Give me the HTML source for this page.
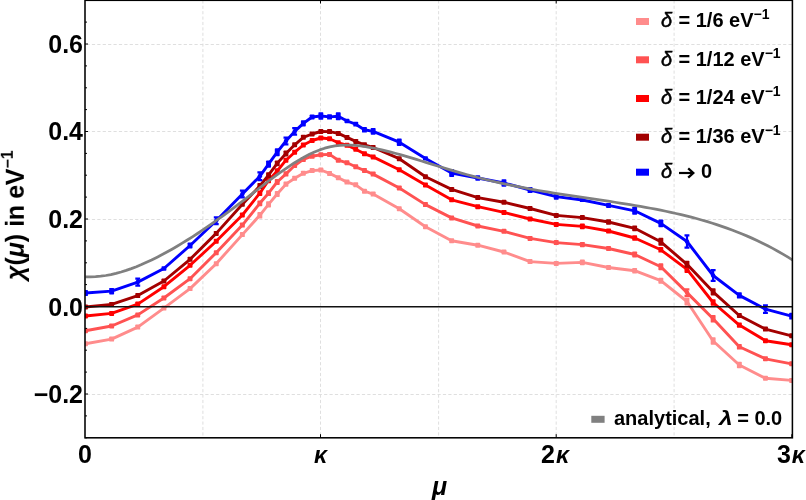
<!DOCTYPE html><html><head><meta charset="utf-8"><title>chart</title><style>
html,body{margin:0;padding:0;background:#fff}
body{width:806px;height:500px;position:relative;overflow:hidden;font-family:"Liberation Sans",sans-serif;font-weight:bold;color:#000}
.t{position:absolute;white-space:nowrap;line-height:1;will-change:transform}
.yl{font-size:25px;text-align:right;width:60px;left:23.1px}
.xl{font-size:25px}
.lg{font-size:20px;left:661.3px}
i{font-style:italic}
.dl{font-weight:normal;-webkit-text-stroke:0.5px #000;margin-right:0.8px}
sup{font-size:70%;vertical-align:baseline;position:relative;top:-0.56em;line-height:0}
.lam{display:inline-block;transform:scaleX(1.22);transform-origin:0 50%;margin-left:2.4px;margin-right:1.8px}
</style></head><body>
<svg width="806" height="500" viewBox="0 0 806 500" style="position:absolute;left:0;top:0"><rect width="806" height="500" fill="#fff"/><g stroke="#dfdfdf" stroke-width="1" stroke-dasharray="3.2 2.2"><line x1="86.5" x2="792.4" y1="44.5" y2="44.5"/><line x1="86.5" x2="792.4" y1="131.5" y2="131.5"/><line x1="86.5" x2="792.4" y1="219.5" y2="219.5"/><line x1="86.5" x2="792.4" y1="394.5" y2="394.5"/><line x1="202.9" x2="202.9" y1="0.3" y2="437.8"/><line x1="320.5" x2="320.5" y1="0.3" y2="437.8"/><line x1="438.6" x2="438.6" y1="0.3" y2="437.8"/><line x1="556.2" x2="556.2" y1="0.3" y2="437.8"/><line x1="674.1" x2="674.1" y1="0.3" y2="437.8"/></g><clipPath id="c"><rect x="85.0" y="0.3" width="707.4" height="437.5"/></clipPath><g clip-path="url(#c)"><polyline points="85.5,343.8 111.6,339.1 137.8,327.1 163.9,308.1 190.1,288.6 216.2,263.7 242.4,234.6 259.8,215.3 268.5,204.4 277.2,194.0 286.0,184.1 294.7,178.2 303.4,173.3 312.1,170.6 320.8,170.0 329.6,173.4 338.3,177.8 347.0,182.1 355.7,184.8 364.4,191.2 373.1,194.1 399.3,208.8 425.5,226.7 451.6,240.7 477.8,245.2 503.9,252.0 530.1,261.6 556.2,263.4 582.4,262.4 608.5,267.5 634.7,270.7 660.8,280.7 687.0,301.5 713.1,341.0 739.3,365.0 765.5,378.3 791.6,380.4" fill="none" stroke="#FF8C8C" stroke-width="2.9" stroke-linejoin="round"/><rect x="83.0" y="341.3" width="4.9" height="5.0" rx="0.7" fill="#FF8C8C"/><rect x="109.2" y="336.6" width="4.9" height="5.0" rx="0.7" fill="#FF8C8C"/><rect x="135.3" y="324.6" width="4.9" height="5.0" rx="0.7" fill="#FF8C8C"/><rect x="161.5" y="305.6" width="4.9" height="5.0" rx="0.7" fill="#FF8C8C"/><rect x="187.6" y="286.1" width="4.9" height="5.0" rx="0.7" fill="#FF8C8C"/><rect x="213.8" y="261.2" width="4.9" height="5.0" rx="0.7" fill="#FF8C8C"/><rect x="239.9" y="232.1" width="4.9" height="5.0" rx="0.7" fill="#FF8C8C"/><rect x="257.4" y="212.0" width="4.9" height="6.6" rx="0.7" fill="#FF8C8C"/><rect x="266.1" y="201.3" width="4.9" height="6.2" rx="0.7" fill="#FF8C8C"/><rect x="274.8" y="191.1" width="4.9" height="5.8" rx="0.7" fill="#FF8C8C"/><rect x="283.5" y="181.4" width="4.9" height="5.4" rx="0.7" fill="#FF8C8C"/><rect x="292.2" y="175.7" width="4.9" height="5.0" rx="0.7" fill="#FF8C8C"/><rect x="300.9" y="170.8" width="4.9" height="5.0" rx="0.7" fill="#FF8C8C"/><rect x="309.7" y="168.1" width="4.9" height="5.0" rx="0.7" fill="#FF8C8C"/><rect x="318.4" y="167.5" width="4.9" height="5.0" rx="0.7" fill="#FF8C8C"/><rect x="327.1" y="170.9" width="4.9" height="5.0" rx="0.7" fill="#FF8C8C"/><rect x="335.8" y="175.3" width="4.9" height="5.0" rx="0.7" fill="#FF8C8C"/><rect x="344.5" y="179.6" width="4.9" height="5.0" rx="0.7" fill="#FF8C8C"/><rect x="353.3" y="182.3" width="4.9" height="5.0" rx="0.7" fill="#FF8C8C"/><rect x="362.0" y="188.7" width="4.9" height="5.0" rx="0.7" fill="#FF8C8C"/><rect x="370.7" y="191.6" width="4.9" height="5.0" rx="0.7" fill="#FF8C8C"/><rect x="396.8" y="206.3" width="4.9" height="5.0" rx="0.7" fill="#FF8C8C"/><rect x="423.0" y="224.2" width="4.9" height="5.0" rx="0.7" fill="#FF8C8C"/><rect x="449.2" y="238.2" width="4.9" height="5.0" rx="0.7" fill="#FF8C8C"/><rect x="475.3" y="242.7" width="4.9" height="5.0" rx="0.7" fill="#FF8C8C"/><rect x="501.5" y="249.5" width="4.9" height="5.0" rx="0.7" fill="#FF8C8C"/><rect x="527.6" y="259.1" width="4.9" height="5.0" rx="0.7" fill="#FF8C8C"/><rect x="553.8" y="260.9" width="4.9" height="5.0" rx="0.7" fill="#FF8C8C"/><rect x="579.9" y="259.6" width="4.9" height="5.6" rx="0.7" fill="#FF8C8C"/><rect x="606.1" y="265.0" width="4.9" height="5.0" rx="0.7" fill="#FF8C8C"/><rect x="632.2" y="268.0" width="4.9" height="5.4" rx="0.7" fill="#FF8C8C"/><rect x="658.4" y="277.7" width="4.9" height="6.0" rx="0.7" fill="#FF8C8C"/><rect x="684.5" y="297.5" width="4.9" height="8.0" rx="0.7" fill="#FF8C8C"/><rect x="710.7" y="337.3" width="4.9" height="7.4" rx="0.7" fill="#FF8C8C"/><rect x="736.9" y="361.8" width="4.9" height="6.4" rx="0.7" fill="#FF8C8C"/><rect x="763.0" y="375.8" width="4.9" height="5.0" rx="0.7" fill="#FF8C8C"/><rect x="789.2" y="377.9" width="4.9" height="5.0" rx="0.7" fill="#FF8C8C"/><polyline points="85.5,330.7 111.6,326.0 137.8,314.9 163.9,298.0 190.1,278.7 216.2,252.7 242.4,225.1 259.8,203.3 268.5,193.2 277.2,182.0 286.0,173.9 294.7,165.5 303.4,159.4 312.1,156.2 320.8,154.8 329.6,154.4 338.3,160.2 347.0,162.8 355.7,166.8 364.4,170.5 373.1,174.1 399.3,188.0 425.5,204.6 451.6,217.9 477.8,226.0 503.9,231.3 530.1,238.4 556.2,242.6 582.4,244.6 608.5,248.5 634.7,254.5 660.8,266.7 687.0,292.6 713.1,318.8 739.3,346.8 765.5,358.8 791.6,363.8" fill="none" stroke="#FF5252" stroke-width="2.9" stroke-linejoin="round"/><rect x="83.0" y="328.2" width="4.9" height="5.0" rx="0.7" fill="#FF5252"/><rect x="109.2" y="323.5" width="4.9" height="5.0" rx="0.7" fill="#FF5252"/><rect x="135.3" y="312.4" width="4.9" height="5.0" rx="0.7" fill="#FF5252"/><rect x="161.5" y="295.5" width="4.9" height="5.0" rx="0.7" fill="#FF5252"/><rect x="187.6" y="276.2" width="4.9" height="5.0" rx="0.7" fill="#FF5252"/><rect x="213.8" y="250.2" width="4.9" height="5.0" rx="0.7" fill="#FF5252"/><rect x="239.9" y="222.6" width="4.9" height="5.0" rx="0.7" fill="#FF5252"/><rect x="257.4" y="200.4" width="4.9" height="5.8" rx="0.7" fill="#FF5252"/><rect x="266.1" y="190.3" width="4.9" height="5.8" rx="0.7" fill="#FF5252"/><rect x="274.8" y="179.1" width="4.9" height="5.8" rx="0.7" fill="#FF5252"/><rect x="283.5" y="171.2" width="4.9" height="5.4" rx="0.7" fill="#FF5252"/><rect x="292.2" y="163.0" width="4.9" height="5.0" rx="0.7" fill="#FF5252"/><rect x="300.9" y="156.9" width="4.9" height="5.0" rx="0.7" fill="#FF5252"/><rect x="309.7" y="153.7" width="4.9" height="5.0" rx="0.7" fill="#FF5252"/><rect x="318.4" y="152.3" width="4.9" height="5.0" rx="0.7" fill="#FF5252"/><rect x="327.1" y="151.9" width="4.9" height="5.0" rx="0.7" fill="#FF5252"/><rect x="335.8" y="157.7" width="4.9" height="5.0" rx="0.7" fill="#FF5252"/><rect x="344.5" y="160.3" width="4.9" height="5.0" rx="0.7" fill="#FF5252"/><rect x="353.3" y="164.3" width="4.9" height="5.0" rx="0.7" fill="#FF5252"/><rect x="362.0" y="168.0" width="4.9" height="5.0" rx="0.7" fill="#FF5252"/><rect x="370.7" y="171.6" width="4.9" height="5.0" rx="0.7" fill="#FF5252"/><rect x="396.8" y="185.5" width="4.9" height="5.0" rx="0.7" fill="#FF5252"/><rect x="423.0" y="202.1" width="4.9" height="5.0" rx="0.7" fill="#FF5252"/><rect x="449.2" y="215.4" width="4.9" height="5.0" rx="0.7" fill="#FF5252"/><rect x="475.3" y="223.5" width="4.9" height="5.0" rx="0.7" fill="#FF5252"/><rect x="501.5" y="228.8" width="4.9" height="5.0" rx="0.7" fill="#FF5252"/><rect x="527.6" y="235.9" width="4.9" height="5.0" rx="0.7" fill="#FF5252"/><rect x="553.8" y="240.1" width="4.9" height="5.0" rx="0.7" fill="#FF5252"/><rect x="579.9" y="241.9" width="4.9" height="5.4" rx="0.7" fill="#FF5252"/><rect x="606.1" y="246.0" width="4.9" height="5.0" rx="0.7" fill="#FF5252"/><rect x="632.2" y="251.6" width="4.9" height="5.8" rx="0.7" fill="#FF5252"/><rect x="658.4" y="263.2" width="4.9" height="7.0" rx="0.7" fill="#FF5252"/><path d="M687.0,289.3V295.9M684.5,289.3H689.4M684.5,295.9H689.4" stroke="#FF5252" stroke-width="2.2" fill="none"/><circle cx="687.0" cy="292.6" r="2.25" fill="#FF5252"/><rect x="710.7" y="315.0" width="4.9" height="7.6" rx="0.7" fill="#FF5252"/><rect x="736.9" y="344.0" width="4.9" height="5.6" rx="0.7" fill="#FF5252"/><rect x="763.0" y="356.3" width="4.9" height="5.0" rx="0.7" fill="#FF5252"/><rect x="789.2" y="361.3" width="4.9" height="5.0" rx="0.7" fill="#FF5252"/><polyline points="85.5,316.0 111.6,313.4 137.8,304.1 163.9,286.7 190.1,265.3 216.2,241.3 242.4,215.0 259.8,193.2 268.5,180.4 277.2,171.0 286.0,160.2 294.7,152.2 303.4,145.0 312.1,140.5 320.8,138.0 329.6,138.8 338.3,142.8 347.0,145.2 355.7,149.2 364.4,153.8 373.1,156.9 399.3,169.8 425.5,184.9 451.6,199.8 477.8,206.7 503.9,212.4 530.1,219.0 556.2,224.4 582.4,226.4 608.5,231.0 634.7,238.0 660.8,249.8 687.0,269.3 713.1,302.5 739.3,325.1 765.5,340.7 791.6,344.7" fill="none" stroke="#FF0000" stroke-width="2.9" stroke-linejoin="round"/><rect x="83.0" y="313.5" width="4.9" height="5.0" rx="0.7" fill="#FF0000"/><rect x="109.2" y="310.9" width="4.9" height="5.0" rx="0.7" fill="#FF0000"/><rect x="135.3" y="301.6" width="4.9" height="5.0" rx="0.7" fill="#FF0000"/><rect x="161.5" y="284.2" width="4.9" height="5.0" rx="0.7" fill="#FF0000"/><rect x="187.6" y="262.8" width="4.9" height="5.0" rx="0.7" fill="#FF0000"/><rect x="213.8" y="238.8" width="4.9" height="5.0" rx="0.7" fill="#FF0000"/><rect x="239.9" y="212.5" width="4.9" height="5.0" rx="0.7" fill="#FF0000"/><rect x="257.4" y="190.4" width="4.9" height="5.6" rx="0.7" fill="#FF0000"/><rect x="266.1" y="177.6" width="4.9" height="5.6" rx="0.7" fill="#FF0000"/><rect x="274.8" y="168.2" width="4.9" height="5.6" rx="0.7" fill="#FF0000"/><rect x="283.5" y="157.7" width="4.9" height="5.0" rx="0.7" fill="#FF0000"/><rect x="292.2" y="149.7" width="4.9" height="5.0" rx="0.7" fill="#FF0000"/><rect x="300.9" y="142.5" width="4.9" height="5.0" rx="0.7" fill="#FF0000"/><rect x="309.7" y="138.0" width="4.9" height="5.0" rx="0.7" fill="#FF0000"/><rect x="318.4" y="135.5" width="4.9" height="5.0" rx="0.7" fill="#FF0000"/><rect x="327.1" y="136.3" width="4.9" height="5.0" rx="0.7" fill="#FF0000"/><rect x="335.8" y="140.3" width="4.9" height="5.0" rx="0.7" fill="#FF0000"/><rect x="344.5" y="142.7" width="4.9" height="5.0" rx="0.7" fill="#FF0000"/><rect x="353.3" y="146.7" width="4.9" height="5.0" rx="0.7" fill="#FF0000"/><rect x="362.0" y="151.3" width="4.9" height="5.0" rx="0.7" fill="#FF0000"/><rect x="370.7" y="154.4" width="4.9" height="5.0" rx="0.7" fill="#FF0000"/><rect x="396.8" y="167.3" width="4.9" height="5.0" rx="0.7" fill="#FF0000"/><rect x="423.0" y="182.4" width="4.9" height="5.0" rx="0.7" fill="#FF0000"/><rect x="449.2" y="197.3" width="4.9" height="5.0" rx="0.7" fill="#FF0000"/><rect x="475.3" y="204.2" width="4.9" height="5.0" rx="0.7" fill="#FF0000"/><rect x="501.5" y="209.9" width="4.9" height="5.0" rx="0.7" fill="#FF0000"/><rect x="527.6" y="216.5" width="4.9" height="5.0" rx="0.7" fill="#FF0000"/><rect x="553.8" y="221.9" width="4.9" height="5.0" rx="0.7" fill="#FF0000"/><rect x="579.9" y="223.6" width="4.9" height="5.6" rx="0.7" fill="#FF0000"/><rect x="606.1" y="228.5" width="4.9" height="5.0" rx="0.7" fill="#FF0000"/><rect x="632.2" y="235.3" width="4.9" height="5.4" rx="0.7" fill="#FF0000"/><rect x="658.4" y="247.0" width="4.9" height="5.6" rx="0.7" fill="#FF0000"/><rect x="684.5" y="265.7" width="4.9" height="7.2" rx="0.7" fill="#FF0000"/><rect x="710.7" y="299.3" width="4.9" height="6.4" rx="0.7" fill="#FF0000"/><rect x="736.9" y="322.4" width="4.9" height="5.4" rx="0.7" fill="#FF0000"/><rect x="763.0" y="338.2" width="4.9" height="5.0" rx="0.7" fill="#FF0000"/><rect x="789.2" y="342.2" width="4.9" height="5.0" rx="0.7" fill="#FF0000"/><polyline points="85.5,307.0 111.6,304.4 137.8,295.6 163.9,281.0 190.1,259.3 216.2,233.4 242.4,204.2 259.8,186.0 268.5,175.2 277.2,163.4 286.0,153.5 294.7,144.8 303.4,137.3 312.1,134.0 320.8,131.5 329.6,131.6 338.3,133.4 347.0,137.4 355.7,141.4 364.4,144.8 373.1,147.5 399.3,158.7 425.5,176.8 451.6,189.4 477.8,197.6 503.9,202.2 530.1,208.5 556.2,215.4 582.4,217.6 608.5,222.0 634.7,228.3 660.8,241.8 687.0,264.3 713.1,291.8 739.3,315.5 765.5,329.1 791.6,335.8" fill="none" stroke="#A30000" stroke-width="2.9" stroke-linejoin="round"/><rect x="83.0" y="304.5" width="4.9" height="5.0" rx="0.7" fill="#A30000"/><rect x="109.2" y="301.9" width="4.9" height="5.0" rx="0.7" fill="#A30000"/><rect x="135.3" y="293.1" width="4.9" height="5.0" rx="0.7" fill="#A30000"/><rect x="161.5" y="278.5" width="4.9" height="5.0" rx="0.7" fill="#A30000"/><rect x="187.6" y="256.8" width="4.9" height="5.0" rx="0.7" fill="#A30000"/><rect x="213.8" y="230.9" width="4.9" height="5.0" rx="0.7" fill="#A30000"/><rect x="239.9" y="201.7" width="4.9" height="5.0" rx="0.7" fill="#A30000"/><rect x="257.4" y="183.1" width="4.9" height="5.8" rx="0.7" fill="#A30000"/><rect x="266.1" y="172.3" width="4.9" height="5.8" rx="0.7" fill="#A30000"/><rect x="274.8" y="160.5" width="4.9" height="5.8" rx="0.7" fill="#A30000"/><rect x="283.5" y="150.6" width="4.9" height="5.8" rx="0.7" fill="#A30000"/><rect x="292.2" y="142.3" width="4.9" height="5.0" rx="0.7" fill="#A30000"/><rect x="300.9" y="134.8" width="4.9" height="5.0" rx="0.7" fill="#A30000"/><rect x="309.7" y="131.5" width="4.9" height="5.0" rx="0.7" fill="#A30000"/><rect x="318.4" y="129.0" width="4.9" height="5.0" rx="0.7" fill="#A30000"/><rect x="327.1" y="129.1" width="4.9" height="5.0" rx="0.7" fill="#A30000"/><rect x="335.8" y="130.9" width="4.9" height="5.0" rx="0.7" fill="#A30000"/><rect x="344.5" y="134.9" width="4.9" height="5.0" rx="0.7" fill="#A30000"/><rect x="353.3" y="138.9" width="4.9" height="5.0" rx="0.7" fill="#A30000"/><rect x="362.0" y="142.3" width="4.9" height="5.0" rx="0.7" fill="#A30000"/><rect x="370.7" y="145.0" width="4.9" height="5.0" rx="0.7" fill="#A30000"/><rect x="396.8" y="156.2" width="4.9" height="5.0" rx="0.7" fill="#A30000"/><rect x="423.0" y="174.3" width="4.9" height="5.0" rx="0.7" fill="#A30000"/><rect x="449.2" y="186.9" width="4.9" height="5.0" rx="0.7" fill="#A30000"/><rect x="475.3" y="195.1" width="4.9" height="5.0" rx="0.7" fill="#A30000"/><rect x="501.5" y="199.7" width="4.9" height="5.0" rx="0.7" fill="#A30000"/><rect x="527.6" y="206.0" width="4.9" height="5.0" rx="0.7" fill="#A30000"/><rect x="553.8" y="212.9" width="4.9" height="5.0" rx="0.7" fill="#A30000"/><rect x="579.9" y="215.1" width="4.9" height="5.0" rx="0.7" fill="#A30000"/><rect x="606.1" y="219.3" width="4.9" height="5.4" rx="0.7" fill="#A30000"/><rect x="632.2" y="225.4" width="4.9" height="5.8" rx="0.7" fill="#A30000"/><rect x="658.4" y="237.8" width="4.9" height="8.0" rx="0.7" fill="#A30000"/><rect x="684.5" y="260.8" width="4.9" height="7.0" rx="0.7" fill="#A30000"/><rect x="710.7" y="288.2" width="4.9" height="7.2" rx="0.7" fill="#A30000"/><rect x="736.9" y="313.0" width="4.9" height="5.0" rx="0.7" fill="#A30000"/><rect x="763.0" y="326.6" width="4.9" height="5.0" rx="0.7" fill="#A30000"/><rect x="789.2" y="333.3" width="4.9" height="5.0" rx="0.7" fill="#A30000"/><polyline points="85.5,293.0 111.6,291.1 137.8,282.1 163.9,268.5 190.1,245.5 216.2,220.8 242.4,194.0 259.8,176.3 268.5,164.2 277.2,152.2 286.0,141.0 294.7,131.4 303.4,123.4 312.1,117.0 320.8,116.0 329.6,116.9 338.3,116.3 347.0,121.0 355.7,124.2 364.4,129.8 373.1,131.4 399.3,142.2 425.5,158.4 451.6,173.0 477.8,178.0 503.9,183.0 530.1,190.0 556.2,196.6 582.4,200.0 608.5,205.4 634.7,210.8 660.8,223.4 687.0,241.5 713.1,275.5 739.3,295.4 765.5,309.1 791.6,316.2" fill="none" stroke="#0000FF" stroke-width="2.9" stroke-linejoin="round"/><rect x="83.0" y="289.9" width="4.9" height="6.2" rx="0.7" fill="#0000FF"/><rect x="109.2" y="287.9" width="4.9" height="6.5" rx="0.7" fill="#0000FF"/><path d="M137.8,278.6V285.6M135.3,278.6H140.2M135.3,285.6H140.2" stroke="#0000FF" stroke-width="2.2" fill="none"/><circle cx="137.8" cy="282.1" r="2.25" fill="#0000FF"/><rect x="161.5" y="266.2" width="4.9" height="4.6" rx="0.7" fill="#0000FF"/><rect x="187.6" y="242.5" width="4.9" height="6.0" rx="0.7" fill="#0000FF"/><path d="M216.2,217.4V224.2M213.8,217.4H218.7M213.8,224.2H218.7" stroke="#0000FF" stroke-width="2.2" fill="none"/><circle cx="216.2" cy="220.8" r="2.25" fill="#0000FF"/><path d="M242.4,190.7V197.3M239.9,190.7H244.8M239.9,197.3H244.8" stroke="#0000FF" stroke-width="2.2" fill="none"/><circle cx="242.4" cy="194.0" r="2.25" fill="#0000FF"/><path d="M259.8,172.4V180.2M257.4,172.4H262.3M257.4,180.2H262.3" stroke="#0000FF" stroke-width="2.2" fill="none"/><circle cx="259.8" cy="176.3" r="2.25" fill="#0000FF"/><rect x="266.1" y="160.6" width="4.9" height="7.2" rx="0.7" fill="#0000FF"/><rect x="274.8" y="148.2" width="4.9" height="8.0" rx="0.7" fill="#0000FF"/><path d="M286.0,137.7V144.3M283.5,137.7H288.4M283.5,144.3H288.4" stroke="#0000FF" stroke-width="2.2" fill="none"/><circle cx="286.0" cy="141.0" r="2.25" fill="#0000FF"/><path d="M294.7,128.2V134.6M292.2,128.2H297.1M292.2,134.6H297.1" stroke="#0000FF" stroke-width="2.2" fill="none"/><circle cx="294.7" cy="131.4" r="2.25" fill="#0000FF"/><rect x="300.9" y="120.3" width="4.9" height="6.2" rx="0.7" fill="#0000FF"/><rect x="309.7" y="114.6" width="4.9" height="4.8" rx="0.7" fill="#0000FF"/><rect x="318.4" y="112.3" width="4.9" height="7.4" rx="0.7" fill="#0000FF"/><rect x="327.1" y="114.2" width="4.9" height="5.4" rx="0.7" fill="#0000FF"/><rect x="335.8" y="112.3" width="4.9" height="8.0" rx="0.7" fill="#0000FF"/><rect x="344.5" y="118.8" width="4.9" height="4.4" rx="0.7" fill="#0000FF"/><rect x="353.3" y="121.8" width="4.9" height="4.8" rx="0.7" fill="#0000FF"/><rect x="362.0" y="127.0" width="4.9" height="5.6" rx="0.7" fill="#0000FF"/><rect x="370.7" y="128.0" width="4.9" height="6.8" rx="0.7" fill="#0000FF"/><rect x="396.8" y="138.4" width="4.9" height="7.6" rx="0.7" fill="#0000FF"/><rect x="423.0" y="156.2" width="4.9" height="4.4" rx="0.7" fill="#0000FF"/><rect x="449.2" y="169.0" width="4.9" height="8.0" rx="0.7" fill="#0000FF"/><rect x="475.3" y="175.3" width="4.9" height="5.4" rx="0.7" fill="#0000FF"/><rect x="501.5" y="179.3" width="4.9" height="7.4" rx="0.7" fill="#0000FF"/><rect x="527.6" y="186.9" width="4.9" height="6.2" rx="0.7" fill="#0000FF"/><rect x="553.8" y="193.4" width="4.9" height="6.4" rx="0.7" fill="#0000FF"/><rect x="579.9" y="197.9" width="4.9" height="4.2" rx="0.7" fill="#0000FF"/><rect x="606.1" y="202.9" width="4.9" height="5.0" rx="0.7" fill="#0000FF"/><rect x="632.2" y="206.8" width="4.9" height="8.0" rx="0.7" fill="#0000FF"/><rect x="658.4" y="219.5" width="4.9" height="7.8" rx="0.7" fill="#0000FF"/><path d="M687.0,235.4V247.6M684.5,235.4H689.4M684.5,247.6H689.4" stroke="#0000FF" stroke-width="2.2" fill="none"/><circle cx="687.0" cy="241.5" r="2.25" fill="#0000FF"/><path d="M713.1,270.1V280.9M710.7,270.1H715.6M710.7,280.9H715.6" stroke="#0000FF" stroke-width="2.2" fill="none"/><circle cx="713.1" cy="275.5" r="2.25" fill="#0000FF"/><rect x="736.9" y="292.2" width="4.9" height="6.4" rx="0.7" fill="#0000FF"/><path d="M765.5,305.3V312.9M763.0,305.3H767.9M763.0,312.9H767.9" stroke="#0000FF" stroke-width="2.2" fill="none"/><circle cx="765.5" cy="309.1" r="2.25" fill="#0000FF"/><rect x="789.2" y="312.8" width="4.9" height="6.8" rx="0.7" fill="#0000FF"/><polyline points="85.5,276.87 90.5,276.93 95.6,276.71 100.7,276.23 105.8,275.50 110.9,274.54 116.0,273.36 121.1,271.97 126.2,270.39 131.3,268.62 136.4,266.69 141.5,264.59 146.5,262.35 151.6,259.97 156.7,257.45 161.8,254.81 166.9,252.06 172.0,249.20 177.1,246.24 182.2,243.18 187.3,240.03 192.4,236.80 197.5,233.49 202.5,230.10 207.6,226.63 212.7,223.10 217.8,219.49 222.9,215.82 228.0,212.08 233.1,208.29 238.2,204.44 243.3,200.55 248.4,196.63 253.5,192.69 258.5,188.76 263.6,184.84 268.7,180.95 273.8,177.13 278.9,173.40 284.0,169.77 289.1,166.29 294.2,162.97 299.3,159.85 304.4,156.96 309.5,154.32 314.5,151.96 319.6,149.91 324.7,148.20 329.8,146.86 334.9,145.89 340.0,145.29 345.1,145.04 350.2,145.10 355.3,145.42 360.4,145.95 365.5,146.67 370.5,147.53 375.6,148.52 380.7,149.63 385.8,150.84 390.9,152.13 396.0,153.49 401.1,154.91 406.2,156.39 411.3,157.90 416.4,159.44 421.5,161.01 426.6,162.58 431.6,164.16 436.7,165.73 441.8,167.29 446.9,168.83 452.0,170.35 457.1,171.85 462.2,173.31 467.3,174.73 472.4,176.12 477.5,177.47 482.6,178.77 487.6,180.03 492.7,181.25 497.8,182.43 502.9,183.56 508.0,184.65 513.1,185.71 518.2,186.72 523.3,187.71 528.4,188.66 533.5,189.58 538.6,190.48 543.6,191.35 548.7,192.19 553.8,193.02 558.9,193.83 564.0,194.62 569.1,195.40 574.2,196.17 579.3,196.93 584.4,197.68 589.5,198.44 594.6,199.19 599.6,199.94 604.7,200.70 609.8,201.47 614.9,202.25 620.0,203.04 625.1,203.85 630.2,204.67 635.3,205.52 640.4,206.40 645.5,207.30 650.6,208.23 655.6,209.20 660.7,210.20 665.8,211.25 670.9,212.33 676.0,213.47 681.1,214.65 686.2,215.89 691.3,217.19 696.4,218.54 701.5,219.96 706.6,221.44 711.7,223.00 716.7,224.62 721.8,226.33 726.9,228.11 732.0,229.98 737.1,231.94 742.2,233.99 747.3,236.13 752.4,238.37 757.5,240.72 762.6,243.17 767.7,245.73 772.7,248.40 777.8,251.19 782.9,254.11 788.0,257.15 793.1,260.32" fill="none" stroke="#808080" stroke-width="2.75" stroke-linejoin="round"/></g><line x1="85.0" x2="792.4" y1="306.75" y2="306.75" stroke="#111" stroke-width="1.5"/><g stroke="#000" stroke-width="1"><line x1="85.0" x2="87.0" y1="437.8" y2="437.8"/><line x1="85.0" x2="87.0" y1="415.9" y2="415.9"/><line x1="85.0" x2="88.0" y1="394.0" y2="394.0"/><line x1="85.0" x2="87.0" y1="372.1" y2="372.1"/><line x1="85.0" x2="87.0" y1="350.2" y2="350.2"/><line x1="85.0" x2="87.0" y1="328.4" y2="328.4"/><line x1="85.0" x2="88.0" y1="306.5" y2="306.5"/><line x1="85.0" x2="87.0" y1="284.6" y2="284.6"/><line x1="85.0" x2="87.0" y1="262.8" y2="262.8"/><line x1="85.0" x2="87.0" y1="240.9" y2="240.9"/><line x1="85.0" x2="88.0" y1="219.0" y2="219.0"/><line x1="85.0" x2="87.0" y1="197.1" y2="197.1"/><line x1="85.0" x2="87.0" y1="175.2" y2="175.2"/><line x1="85.0" x2="87.0" y1="153.4" y2="153.4"/><line x1="85.0" x2="88.0" y1="131.5" y2="131.5"/><line x1="85.0" x2="87.0" y1="109.6" y2="109.6"/><line x1="85.0" x2="87.0" y1="87.8" y2="87.8"/><line x1="85.0" x2="87.0" y1="65.9" y2="65.9"/><line x1="85.0" x2="88.0" y1="44.0" y2="44.0"/><line x1="85.0" x2="87.0" y1="22.1" y2="22.1"/><line x1="85.0" x2="87.0" y1="0.2" y2="0.2"/><line x1="320.5" x2="320.5" y1="0.3" y2="3.5"/><line x1="320.5" x2="320.5" y1="437.8" y2="434.2"/><line x1="556.2" x2="556.2" y1="0.3" y2="3.5"/><line x1="556.2" x2="556.2" y1="437.8" y2="434.2"/><line x1="791.8" x2="791.8" y1="437.8" y2="434.2"/></g><rect x="85.0" y="0.3" width="707.4" height="437.5" fill="none" stroke="#000" stroke-width="1.55"/><rect x="636" y="18.0" width="13" height="7" fill="#FF8C8C"/><rect x="636" y="56.3" width="13" height="7" fill="#FF5252"/><rect x="636" y="95.0" width="13" height="7" fill="#FF0000"/><rect x="636" y="133.7" width="13" height="7" fill="#A30000"/><rect x="636" y="168.7" width="13" height="7" fill="#0000FF"/><rect x="591.3" y="415.8" width="13.3" height="7" fill="#808080"/></svg>
<div class="t yl" style="top:31.8px">0.6</div>
<div class="t yl" style="top:119.3px">0.4</div>
<div class="t yl" style="top:206.8px">0.2</div>
<div class="t yl" style="top:294.9px">0.0</div>
<div class="t yl" style="top:381.8px">−0.2</div>
<div class="t xl" style="left:77.6px;top:442.1px">0</div>
<div class="t xl" style="left:314.4px;top:442.1px"><i style="font-size:0.93em">κ</i></div>
<div class="t xl" style="left:540.9px;top:442.1px">2<i style="margin-left:1.2px;font-size:0.93em">κ</i></div>
<div class="t xl" style="left:777.1px;top:442.1px">3<i style="margin-left:0.9px;font-size:0.93em">κ</i></div>
<div class="t xl" style="left:431.8px;top:474.0px"><i>μ</i></div>
<div class="t" style="font-size:25px;left:23.9px;top:279.7px;transform-origin:0 0;transform:rotate(-90deg) translate(0,-21.2px)"><i>χ</i>(<i>μ</i>) <span style="letter-spacing:-0.35px">in eV</span><sup style="font-size:16px;top:-0.68em;margin-left:0.3px">−1</sup></div>
<div class="t lg" style="top:10.4px"><i class="dl">δ</i> = 1/6 eV<sup>−1</sup></div>
<div class="t lg" style="top:48.5px"><i class="dl">δ</i> = 1/12 eV<sup>−1</sup></div>
<div class="t lg" style="top:87.1px"><i class="dl">δ</i> = 1/24 eV<sup>−1</sup></div>
<div class="t lg" style="top:126.0px"><i class="dl">δ</i> = 1/36 eV<sup>−1</sup></div>
<div class="t lg" style="top:161.4px"><i class="dl">δ</i><svg width="16" height="12" viewBox="0 0 16 12" style="position:absolute;left:17.6px;top:5.6px"><path d="M0,6H14" stroke="#000" stroke-width="2.2" fill="none"/><path d="M9.2,1.3L14.3,6L9.2,10.7" stroke="#000" stroke-width="2.3" fill="none" stroke-linejoin="miter"/></svg><span style="position:absolute;left:39.9px;top:0">0</span></div>
<div class="t lg" style="left:614.2px;top:407.8px">analytical, <i class="lam">λ</i> = 0.0</div>
</body></html>
